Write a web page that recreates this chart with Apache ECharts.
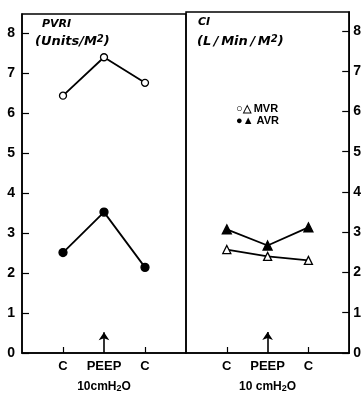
<!DOCTYPE html>
<html><head><meta charset="utf-8">
<script src="https://cdn.jsdelivr.net/npm/echarts@6/dist/echarts.min.js"></script>
<style>html,body{margin:0;padding:0;background:#fff}#c{width:364px;height:393px}</style>
</head><body><div id="c"></div>
<script>
const categories = ['C', 'PEEP', 'C'];
const peepNoteLeft = '10cmH{sub|2}O';
const peepNoteRight = '10 cmH{sub|2}O';
const pvriMVR = [6.43, 7.39, 6.75];
const pvriAVR = [2.51, 3.52, 2.14];
const ciMVR = [2.57, 2.40, 2.30];
const ciAVR = [3.07, 2.67, 3.12];
const yTickLabels = ['0','1','2','3','4','5','6','7','8'];
const arrowTop = 0.52;

const chart = echarts.init(document.getElementById('c'), null, {renderer: 'canvas'});
const F = 'Liberation Sans, Arial, sans-serif';
const FT = '"DejaVu Sans", sans-serif';
const pts = v => v.map((y, i) => [i + 1, y]);
const catPos = categories.map((c, i) => i + 1);

function xAxis(gi, note) {
  return {
    gridIndex: gi, type: 'value', min: 0, max: 4,
    axisLine: {show: true, onZero: false, lineStyle: {color: '#000', width: 1.5}},
    splitLine: {show: false},
    axisTick: {show: true, inside: true, length: 6, customValues: [1, 3], lineStyle: {color: '#000', width: 1.2}},
    axisLabel: {
      show: true, customValues: catPos, margin: 6,
      fontFamily: F, fontWeight: 'bold', fontSize: 13, color: '#000', lineHeight: 15,
      formatter: v => { const c = categories[Math.round(v) - 1]; return c === 'PEEP' ? c + '\n{n|' + note.replace('{sub|2}', '}{sub|2}{n|') + '}' : c; },
      rich: {
        n: {fontFamily: F, fontWeight: 'bold', fontSize: 12, color: '#000', lineHeight: 19, verticalAlign: 'bottom'},
        sub: {fontFamily: F, fontWeight: 'bold', fontSize: 9, color: '#000', lineHeight: 19, verticalAlign: 'bottom', padding: [3, 0, 0, 0]}
      }
    }
  };
}
function yAxis(gi, pos) {
  return {
    gridIndex: gi, type: 'value', min: 0, max: 8.47, interval: 1, position: pos,
    axisLine: {show: true, onZero: false, lineStyle: {color: '#000', width: 1.5}},
    splitLine: {show: false},
    axisTick: {show: true, inside: true, length: 7, lineStyle: {color: '#000', width: 1.2}},
    axisLabel: {show: true, showMaxLabel: false, margin: pos === 'left' ? 7 : 4,
      fontFamily: F, fontWeight: 'bold', fontSize: 14, color: '#000',
      formatter: v => yTickLabels[v] !== undefined && Number.isInteger(v) ? yTickLabels[v] : ''}
  };
}
function line(gi, data, symbol, filled, size) {
  return {
    type: 'line', xAxisIndex: gi, yAxisIndex: gi, data: pts(data),
    symbol: symbol, symbolSize: size, showAllSymbol: true,
    lineStyle: {color: '#000', width: 1.8},
    itemStyle: {color: filled ? '#000' : '#fff', borderColor: '#000', borderWidth: 1.3},
    z: 3, animation: false
  };
}
function arrow(gi) {
  return {
    type: 'line', xAxisIndex: gi, yAxisIndex: gi, data: [], animation: false,
    markLine: {
      silent: true, symbol: ['none', 'arrow'], symbolSize: 8,
      label: {show: false},
      lineStyle: {color: '#000', width: 1.6, type: 'solid'},
      data: [[{coord: [2, 0]}, {coord: [2, arrowTop]}]],
      animation: false
    }
  };
}
const titleRich = {
  t: {fontFamily: FT, fontStyle: 'italic', fontWeight: 'bold', fontSize: 13, color: '#000'},
  sup: {fontFamily: FT, fontStyle: 'italic', fontWeight: 'bold', fontSize: 10, color: '#000', verticalAlign: 'top', padding: [0, 0, 6, 0]}
};

chart.setOption({
  backgroundColor: '#fff',
  animation: false,
  grid: [
    {left: 22, width: 164, top: 14, height: 344, show: true, borderColor: '#000', borderWidth: 1.5, containLabel: false},
    {left: 186, width: 166, top: 12, height: 343, show: true, borderColor: '#000', borderWidth: 1.5, containLabel: false}
  ],
  xAxis: [xAxis(0, peepNoteLeft), xAxis(1, peepNoteRight)],
  yAxis: [yAxis(0, 'left'), yAxis(1, 'right')],
  series: [
    line(0, pvriMVR, 'circle', false, 7),
    line(0, pvriAVR, 'circle', true, 8),
    line(1, ciMVR, 'triangle', false, 8),
    line(1, ciAVR, 'triangle', true, 9),
    arrow(0), arrow(1)
  ],
  graphic: [
    {type: 'text', left: 42, top: 19, style: {text: 'PVRI', font: 'italic bold 11px ' + FT, fill: '#000'}},
    {type: 'text', left: 35, top: 34, style: {text: '{t|(Units/M}{sup|2}{t|)}', rich: titleRich}},
    {type: 'text', left: 198, top: 17, style: {text: 'CI', font: 'italic bold 11px ' + FT, fill: '#000'}},
    {type: 'text', left: 197, top: 34, style: {text: '{t|(L\u2009/\u2009Min\u2009/\u2009M}{sup|2}{t|)}', rich: titleRich}},
    {type: 'text', left: 236, top: 103, style: {text: '○△ MVR', font: 'bold 11px ' + F, fill: '#000'}},
    {type: 'text', left: 236, top: 115, style: {text: '●▲ AVR', font: 'bold 11px ' + F, fill: '#000'}}
  ]
});
</script></body></html>
